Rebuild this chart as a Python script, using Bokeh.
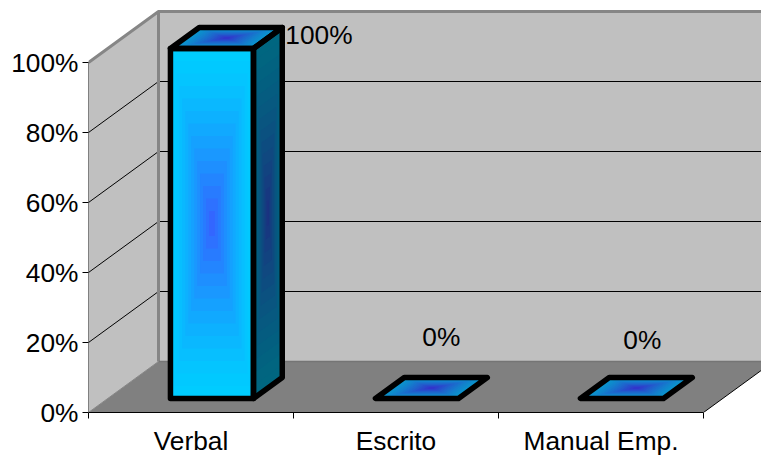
from bokeh.plotting import figure
from bokeh.models import Range1d, FixedTicker, NumeralTickFormatter
from bokeh.embed import file_html
from bokeh.resources import INLINE
from bokeh.core.properties import value as fixed

# Chart data
categories = ["Verbal", "Escrito", "Manual Emp."]
percentages = [100, 0, 0]
value_ticks = [0, 20, 40, 60, 80, 100]
data_labels = ["100%", "0%", "0%"]

# Oblique projection: one unit of depth shifts a point right and upward
UNIT_X = 205.0   # pixels per category
UNIT_Y = 3.5     # pixels per percentage point
DEPTH_X = 70.0 / UNIT_X
DEPTH_Y = 51.0 / UNIT_Y
FRAME_W, FRAME_H = 673, 412
BAR_WIDTH = 0.405
BAR_START = 0.306
BAR_FRONT = 0.2745
BAR_BACK = 0.686
STEPS = 14
FONT_PX = "26.3px"


def project(x, v, depth):
    return x + depth * DEPTH_X, v + depth * DEPTH_Y


def mix(a, b, t):
    return "#%02x%02x%02x" % tuple(round(a[i] + (b[i] - a[i]) * t) for i in range(3))


FRONT = ((0, 204, 255), (51, 102, 255))
SIDE = ((0, 102, 128), (26, 51, 128))
TOP = ((10, 150, 205), (51, 51, 204))

p = figure(
    frame_width=FRAME_W, frame_height=FRAME_H,
    x_range=Range1d(0, FRAME_W / UNIT_X), y_range=Range1d(0, FRAME_H / UNIT_Y),
    output_backend="svg", toolbar_location=None,
    min_border_left=88, min_border_right=0, min_border_top=0, min_border_bottom=43,
    outline_line_color=None, background_fill_color="white", border_fill_color="white",
)
p.grid.visible = False

n = len(categories)
WALL = "#c0c0c0"
FLOOR = "#808080"
EDGE = "#868686"

# Side wall, back wall and floor
xs, ys = zip(project(0, 0, 0), project(0, 100, 0), project(0, 100, 1), project(0, 0, 1))
p.patch(list(xs), list(ys), fill_color=WALL, line_color=None)
xs, ys = zip(project(0, 0, 1), project(0, 100, 1), project(n, 100, 1), project(n, 0, 1))
p.patch(list(xs), list(ys), fill_color=WALL, line_color=None)
xs, ys = zip(project(0, 0, 0), project(n, 0, 0), project(n, 0, 1), project(0, 0, 1))
p.patch(list(xs), list(ys), fill_color=FLOOR, line_color=None)

# Gridlines across both walls
for v in value_ticks[1:-1]:
    a, b, c = project(0, v, 0), project(0, v, 1), project(n, v, 1)
    p.line([a[0], b[0], c[0]], [a[1], b[1], c[1]], line_color="black", line_width=1)

# Wall borders and floor edges
a, b, c = project(0, 100, 0), project(0, 100, 1), project(n, 100, 1)
p.line([a[0], b[0], c[0]], [a[1], b[1], c[1]], line_color=EDGE, line_width=3)
a, b = project(0, 100, 1), project(0, 0, 1)
p.line([a[0], b[0]], [a[1], b[1]], line_color=EDGE, line_width=3)
a, b = project(0, 0, 1), project(n, 0, 1)
p.line([a[0], b[0]], [a[1], b[1]], line_color="#757575", line_width=1.5)
a, b = project(0, 0, 0), project(0, 0, 1)
p.line([a[0], b[0]], [a[1], b[1]], line_color=EDGE, line_width=1)
a, b = project(n, 0, 0), project(n, 0, 1)
p.line([a[0], b[0]], [a[1], b[1]], line_color="black", line_width=1)


def shaded(corners, colors):
    """Fill a quadrilateral with nested copies shrinking toward its centre."""
    cx = sum(c[0] for c in corners) / 4
    cy = sum(c[1] for c in corners) / 4
    for i in range(STEPS):
        t = i / (STEPS - 1)
        k = 1 - i / STEPS
        p.patch([cx + (c[0] - cx) * k for c in corners],
                [cy + (c[1] - cy) * k for c in corners],
                fill_color=mix(colors[0], colors[1], t ** 1.4),
                line_color=None)


def outline(corners):
    p.patch([c[0] for c in corners], [c[1] for c in corners], fill_color=None,
            line_color="black", line_width=5.5, line_join="round")


# Bars: side and front faces only exist above zero, the lid is always drawn
for i, v in enumerate(percentages):
    x0 = i + BAR_START
    x1 = x0 + BAR_WIDTH
    lid = [project(x0, v, BAR_FRONT), project(x1, v, BAR_FRONT),
           project(x1, v, BAR_BACK), project(x0, v, BAR_BACK)]
    if v > 0:
        front = [project(x0, 0, BAR_FRONT), project(x1, 0, BAR_FRONT),
                 project(x1, v, BAR_FRONT), project(x0, v, BAR_FRONT)]
        side = [project(x1, 0, BAR_FRONT), project(x1, 0, BAR_BACK),
                project(x1, v, BAR_BACK), project(x1, v, BAR_FRONT)]
        shaded(side, SIDE)
        shaded(front, FRONT)
    shaded(lid, TOP)
    if v > 0:
        outline(side)
        outline(front)
    outline(lid)

# Value labels, placed relative to each bar's rear top corner
label_shift = [(3, -7), (-46, 41), (-50, 38)]
for i, v in enumerate(percentages):
    x, y = project(i + BAR_START + BAR_WIDTH, v, BAR_BACK)
    dx, dy = label_shift[i]
    p.text([x], [y], text=[data_labels[i]], x_offset=dx, y_offset=-dy,
           text_font=fixed("Liberation Sans"), text_font_size=FONT_PX,
           text_color="black", text_align="left" if v else "center",
           text_baseline="middle")

# Axes
ya = p.yaxis[0]
ya.ticker = FixedTicker(ticks=value_ticks)
ya.bounds = (0, 100)
ya.formatter = NumeralTickFormatter(format="0%")
ya.major_label_overrides = {t: f"{t}%" for t in value_ticks}
ya.major_label_text_font = "Liberation Sans"
ya.major_label_text_font_size = FONT_PX
ya.major_label_text_color = "black"
ya.major_tick_in = 0
ya.major_tick_out = 6
ya.major_tick_line_color = "black"
ya.minor_tick_line_color = None
ya.axis_line_color = "#808080"
ya.major_label_standoff = 4

xa = p.xaxis[0]
centers = [i + 0.5 for i in range(n)]
xa.ticker = FixedTicker(ticks=centers, minor_ticks=list(range(n + 1)))
xa.bounds = (0, n)
xa.major_label_overrides = dict(zip(centers, categories))
xa.major_label_text_font = "Liberation Sans"
xa.major_label_text_font_size = FONT_PX
xa.major_label_text_color = "black"
xa.major_tick_line_color = None
xa.major_tick_in = 0
xa.major_tick_out = 6
xa.minor_tick_in = 0
xa.minor_tick_out = 6
xa.minor_tick_line_color = "black"
xa.axis_line_color = "black"
xa.major_label_standoff = 7

open("out.html", "w").write(file_html(p, INLINE))
